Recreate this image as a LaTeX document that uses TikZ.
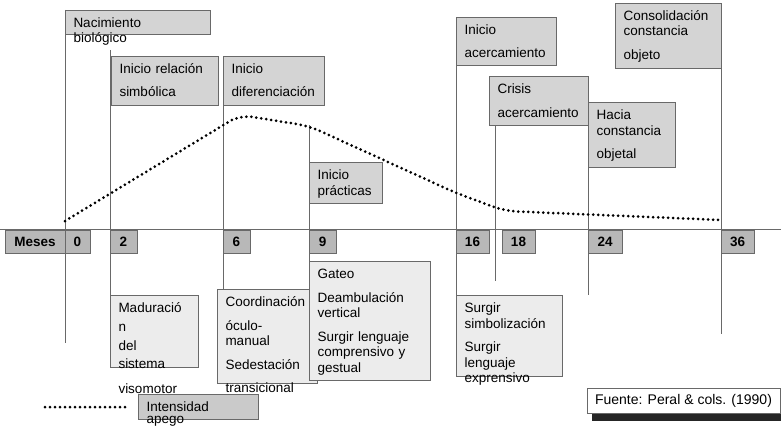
\documentclass[tikz,border=0pt]{standalone}
\usepackage{fontspec}
\setmainfont{Liberation Sans}
\usetikzlibrary{positioning,shadows}
\definecolor{mygrisi}{RGB}{212,212,212}
\definecolor{mygrisii}{RGB}{184,184,184}
\definecolor{mygrisiii}{RGB}{236,236,236}
\definecolor{mygrisiv}{RGB}{202,202,202}
\definecolor{myborde}{RGB}{105,105,105}
\newcommand\caja[6][cajasup]{
  \node[#1, minimum width=#3, minimum height=#4, anchor=north west] (#5) at (#2) {};
  \node[texto, xshift=8.5pt, yshift=-17.5pt] (#5-t) at (#5.north west) {#6};
}

\begin{document}
\begin{tikzpicture}[
    x=1pt, y=-1pt, outer sep=0pt,
    caja/.style={draw=myborde, fill=#1, inner sep=0pt},
    cajasup/.style={caja=mygrisi},
    cajainf/.style={caja=mygrisiii},
    cajaleyenda/.style={caja=mygrisiv},
    texto/.style={anchor=base west, align=left, text width=160pt, inner sep=0pt,
                  font=\fontsize{13.5}{15.5}\selectfont},
    mes/.style={caja=mygrisii, anchor=north west, minimum height=23pt,
                font=\fontsize{13.5}{15.5}\selectfont\bfseries},
    hito/.style={draw=myborde, line width=0.8pt},
    apego/.style={line width=3pt, line cap=round, dash pattern=on 0pt off 5pt},
    fuente/.style={draw=myborde, fill=white, inner sep=0pt, font=\fontsize{14}{16}\selectfont,
                   drop shadow={shadow xshift=5pt, shadow yshift=-8pt, fill=black!85, opacity=1}},]

    \useasboundingbox (0,0) rectangle (781,428);

    % eje de meses
    \coordinate (ejeA) at (0,229);
    \coordinate (ejeB) at (781,229);
    \draw[hito] (ejeA) -- (ejeB);
    \node[mes, minimum width=60pt] (meses) at (5,230) {Meses};
    \foreach \n/\x/\w in {0/65/25, 2/110/27, 6/223/27, 9/309/27, 16/456/33, 18/502/33, 24/588/34, 36/721/33}
        \node[mes, minimum width=\w pt] (m\n) at (\x,230) {\n};

    % hitos de arriba
    \caja{65,10}{145pt}{24pt}{nac}{Nacimiento\\biológico}
    \caja{111,56}{107pt}{49pt}{rel}{Inicio relación\\[8pt]simbólica}
    \caja{223,56}{101pt}{49pt}{dif}{Inicio\\[8pt]diferenciación}
    \caja{309,162}{73pt}{41pt}{pra}{Inicio\\prácticas}
    \caja{456,17}{100pt}{48pt}{ace}{Inicio\\[8pt]acercamiento}
    \caja{489,76}{99pt}{49pt}{cri}{Crisis\\[8pt]acercamiento}
    \caja{588,102}{87pt}{65pt}{hac}{Hacia\\constancia\\[8pt]objetal}
    \caja{615,3}{106pt}{65pt}{con}{Consolidación\\constancia\\[8pt]objeto}

    % logros de abajo
    \caja[cajainf]{110,295}{88pt}{72pt}{mad}{Maduració\\[3.5pt]n\\[3pt]del\\[3pt]sistema\\[9.5pt]visomotor}
    \caja[cajainf]{217,289}{100pt}{94pt}{coo}{Coordinación\\[8pt]óculo-\\manual\\[8pt]Sedestación\\[8pt]transicional}
    \caja[cajainf]{309,261}{121pt}{119pt}{gat}{Gateo\\[8pt]Deambulación\\vertical\\[8pt]Surgir lenguaje\\comprensivo y\\gestual}
    \caja[cajainf]{456,295}{106pt}{81pt}{sur}{Surgir\\simbolización\\[8pt]Surgir\\lenguaje\\exprensivo}

    % lineas verticales
    \coordinate (f0) at (65,343);
    \coordinate (i2) at (110,50);
    \coordinate (i9) at (309,125);
    \coordinate (f18) at (495,281);
    \coordinate (f24) at (588,295);
    \coordinate (f36) at (721,334);
    \draw[hito] (nac.north west) -- (f0);
    \draw[hito] (i2) -- (mad.north west);
    \draw[hito] (dif.south west) -- (dif.south west |- coo.north);
    \draw[hito] (i9) -- (gat.north west);
    \draw[hito] (ace.south west) -- (sur.north west);
    \draw[hito] (cri.south -| f18) -- (f18);
    \draw[hito] (hac.south west) -- (f24);
    \draw[hito] (con.south east) -- (f36);

    % intensidad del apego
    \draw[apego, rounded corners=12pt] (65,221) -- (240,115) -- (309,126) -- (456,193) -- (505,211) -- (721,220);

    % leyenda y fuente
    \coordinate (leyA) at (45,407);
    \coordinate (leyB) at (128,407);
    \draw[apego] (leyA) -- (leyB);
    \caja[cajaleyenda]{138,394}{120pt}{25pt}{int}{Intensidad\\[-3.5pt]apego}
    \node[fuente, minimum width=193pt, minimum height=25pt, anchor=north west] (fte) at (587,388) {Fuente: Peral \& cols. (1990)};

\end{tikzpicture}
\end{document}
